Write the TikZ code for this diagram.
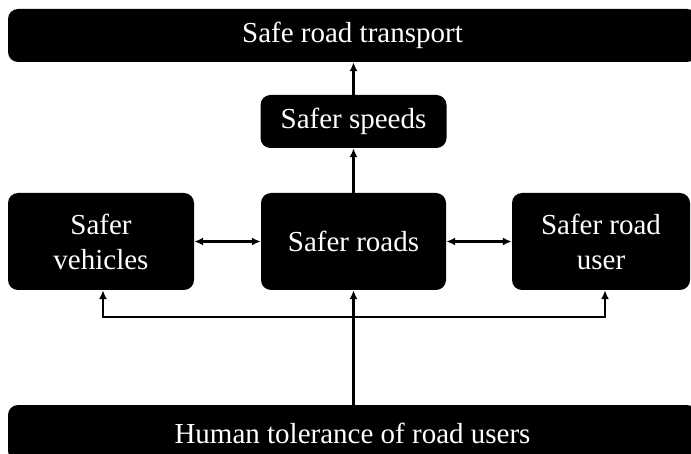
\documentclass[tikz,border=0pt]{standalone}
\usepackage{fontspec}
\setmainfont{Liberation Serif}
\usetikzlibrary{arrows.meta}

\begin{document}
\begin{tikzpicture}[x=1pt,y=-1pt,
	blk/.style={fill=black, rounded corners=10pt, text=white, align=center, inner sep=0pt,
		font=\fontsize{29}{35}\selectfont},
	conn/.style={line width=2.5pt, -{Latex[length=9pt,width=8pt]}},
	both/.style={line width=2.5pt, {Latex[length=9pt,width=8pt]}-{Latex[length=9pt,width=8pt]}}]
	%%%%% START %%%%%
	
	\useasboundingbox (0,0) rectangle (691,454);
	\clip (0,0) rectangle (691,454);
	
	\node[blk, minimum width=689pt, minimum height=53pt] (transport) at (352.5,35.5) {Safe road transport};
	\node[blk, minimum width=186pt, minimum height=53pt] (speeds) at (353.5,121.5) {Safer speeds};
	
	\node[blk, minimum width=186pt, minimum height=97pt] (vehicles) at (101,241.5) {Safer\\vehicles};
	\node[blk, minimum width=185pt, minimum height=97pt] (roads) at (353.5,241.5) {Safer roads};
	\node[blk, minimum width=178pt, minimum height=97pt] (user) at (601,241.5) {Safer road\\user};
	
	\node[blk, minimum width=689pt, minimum height=56pt] (human) at (352.5,433) {Human tolerance of road users};
	
	\coordinate (lfoot) at (103,317);
	\coordinate (rfoot) at (605,317);
	
	\draw[conn] (speeds.north) -- (speeds.north |- transport.south);
	\draw[conn] (roads.north) -- (speeds.south);
	\draw[both] (vehicles) -- (roads);
	\draw[both] (roads) -- (user);
	\draw[conn] (human.north -| roads) -- (roads.south);
	\draw[both] (lfoot |- vehicles.south) -- (lfoot) -- (rfoot) -- (rfoot |- user.south);
	
	%%%%% END %%%%%
\end{tikzpicture}
\end{document}
